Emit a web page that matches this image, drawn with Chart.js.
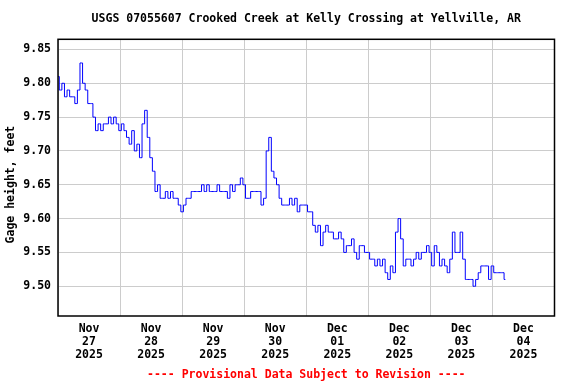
<!DOCTYPE html>
<html>
<head>
<meta charset="utf-8">
<script src="https://cdn.jsdelivr.net/npm/chart.js@4/dist/chart.umd.min.js"></script>
<style>
  html, body { margin: 0; padding: 0; background: #fff; }
  #box { width: 576px; height: 384px; }
</style>
</head>
<body>
<div id="box"><canvas id="gageChart"></canvas></div>
<script>
// gage height (feet), one reading per hour starting Nov 27 2025 00:00
const gageHeight = [
    9.81, 9.79, 9.80, 9.78, 9.79, 9.78, 9.78, 9.77, 9.79, 9.83,
    9.80, 9.79, 9.77, 9.77, 9.75, 9.73, 9.74, 9.73, 9.74, 9.74,
    9.75, 9.74, 9.75, 9.74, 9.73, 9.74, 9.73, 9.72, 9.71, 9.73,
    9.70, 9.71, 9.69, 9.74, 9.76, 9.72, 9.69, 9.67, 9.64, 9.65,
    9.63, 9.63, 9.64, 9.63, 9.64, 9.63, 9.63, 9.62, 9.61, 9.62,
    9.63, 9.63, 9.64, 9.64, 9.64, 9.64, 9.65, 9.64, 9.65, 9.64,
    9.64, 9.64, 9.65, 9.64, 9.64, 9.64, 9.63, 9.65, 9.64, 9.65,
    9.65, 9.66, 9.65, 9.63, 9.63, 9.64, 9.64, 9.64, 9.64, 9.62,
    9.63, 9.70, 9.72, 9.67, 9.66, 9.65, 9.63, 9.62, 9.62, 9.62,
    9.63, 9.62, 9.63, 9.61, 9.62, 9.62, 9.62, 9.61, 9.61, 9.59,
    9.58, 9.59, 9.56, 9.58, 9.59, 9.58, 9.58, 9.57, 9.57, 9.58,
    9.57, 9.55, 9.56, 9.56, 9.57, 9.55, 9.54, 9.56, 9.56, 9.55,
    9.55, 9.54, 9.54, 9.53, 9.54, 9.53, 9.54, 9.52, 9.51, 9.53,
    9.52, 9.58, 9.60, 9.57, 9.53, 9.54, 9.54, 9.53, 9.54, 9.55,
    9.54, 9.55, 9.55, 9.56, 9.55, 9.53, 9.56, 9.55, 9.53, 9.54,
    9.53, 9.52, 9.54, 9.58, 9.55, 9.55, 9.58, 9.54, 9.51, 9.51,
    9.51, 9.50, 9.51, 9.52, 9.53, 9.53, 9.53, 9.51, 9.53, 9.52,
    9.52, 9.52, 9.52, 9.51
];

const dayLabels = [
    ["Nov", "27", "2025"], ["Nov", "28", "2025"], ["Nov", "29", "2025"], ["Nov", "30", "2025"],
    ["Dec", "01", "2025"], ["Dec", "02", "2025"], ["Dec", "03", "2025"], ["Dec", "04", "2025"]
];
const xTickHours = [0, 12, 24, 36, 48, 60, 72, 84, 96, 108, 120, 132, 144, 156, 168, 180, 192];
const yTicks = [9.50, 9.55, 9.60, 9.65, 9.70, 9.75, 9.80, 9.85];

const monoFont = { family: "'DejaVu Sans Mono', 'Liberation Mono', monospace", size: 11.5, weight: "bold" };

// black frame round the plot area
const framePlugin = {
    id: "frame",
    afterDatasetsDraw(chart) {
        let a = chart.chartArea;
        let ctx = chart.ctx;
        ctx.save();
        ctx.strokeStyle = "#000";
        ctx.lineWidth = 1.5;
        ctx.strokeRect(a.left, a.top, a.right - a.left, a.bottom - a.top);
        ctx.restore();
    }
};

let ctx = document.getElementById("gageChart").getContext("2d");
let gageChart = new Chart(ctx, {
    type: "line",
    data: {
        datasets: [{
            data: gageHeight.map((v, i) => ({ x: i, y: v })),
            borderColor: "#0000ff",
            borderWidth: 1,
            pointRadius: 0,
            stepped: "middle",
            fill: false
        }]
    },
    options: {
        responsive: true,
        maintainAspectRatio: false,
        animation: false,
        layout: { padding: { left: 0, right: 21.5, top: 0, bottom: 0 } },
        plugins: {
            legend: { display: false },
            tooltip: { enabled: false },
            title: {
                display: true,
                fullSize: false,
                text: "USGS 07055607 Crooked Creek at Kelly Crossing at Yellville, AR",
                color: "#000",
                font: monoFont,
                padding: { top: 12, bottom: 13.5 }
            },
            subtitle: {
                display: true,
                fullSize: false,
                position: "bottom",
                text: "---- Provisional Data Subject to Revision ----",
                color: "#ff0000",
                font: monoFont,
                padding: { top: 2.2, bottom: 2 }
            }
        },
        scales: {
            x: {
                type: "linear",
                min: 0,
                max: 192,
                afterBuildTicks: function (scale) {
                    scale.ticks = xTickHours.map(v => ({ value: v }));
                },
                afterFit: function (scale) { scale.height = 50; },
                grid: {
                    drawTicks: false,
                    color: c => (c.tick && c.tick.value % 24 === 0) ? "#cccccc" : "rgba(0,0,0,0)"
                },
                border: { display: false },
                ticks: {
                    autoSkip: false,
                    maxRotation: 0,
                    padding: 7,
                    color: "#000",
                    font: Object.assign({}, monoFont, { lineHeight: 1.13 }),
                    callback: function (value) {
                        return value % 24 === 12 ? dayLabels[(value - 12) / 24] : "";
                    }
                }
            },
            y: {
                min: 9.456,
                max: 9.865,
                afterBuildTicks: function (scale) {
                    scale.ticks = yTicks.map(v => ({ value: v }));
                },
                afterFit: function (scale) { scale.width = 58; },
                grid: { drawTicks: false, color: "#cccccc" },
                border: { display: false },
                title: {
                    display: true,
                    text: "Gage height, feet  ",
                    color: "#000",
                    font: monoFont,
                    padding: { top: 4, bottom: 0 }
                },
                ticks: {
                    padding: 7,
                    color: "#000",
                    font: monoFont,
                    callback: value => value.toFixed(2)
                }
            }
        }
    },
    plugins: [framePlugin]
});
</script>
</body>
</html>
